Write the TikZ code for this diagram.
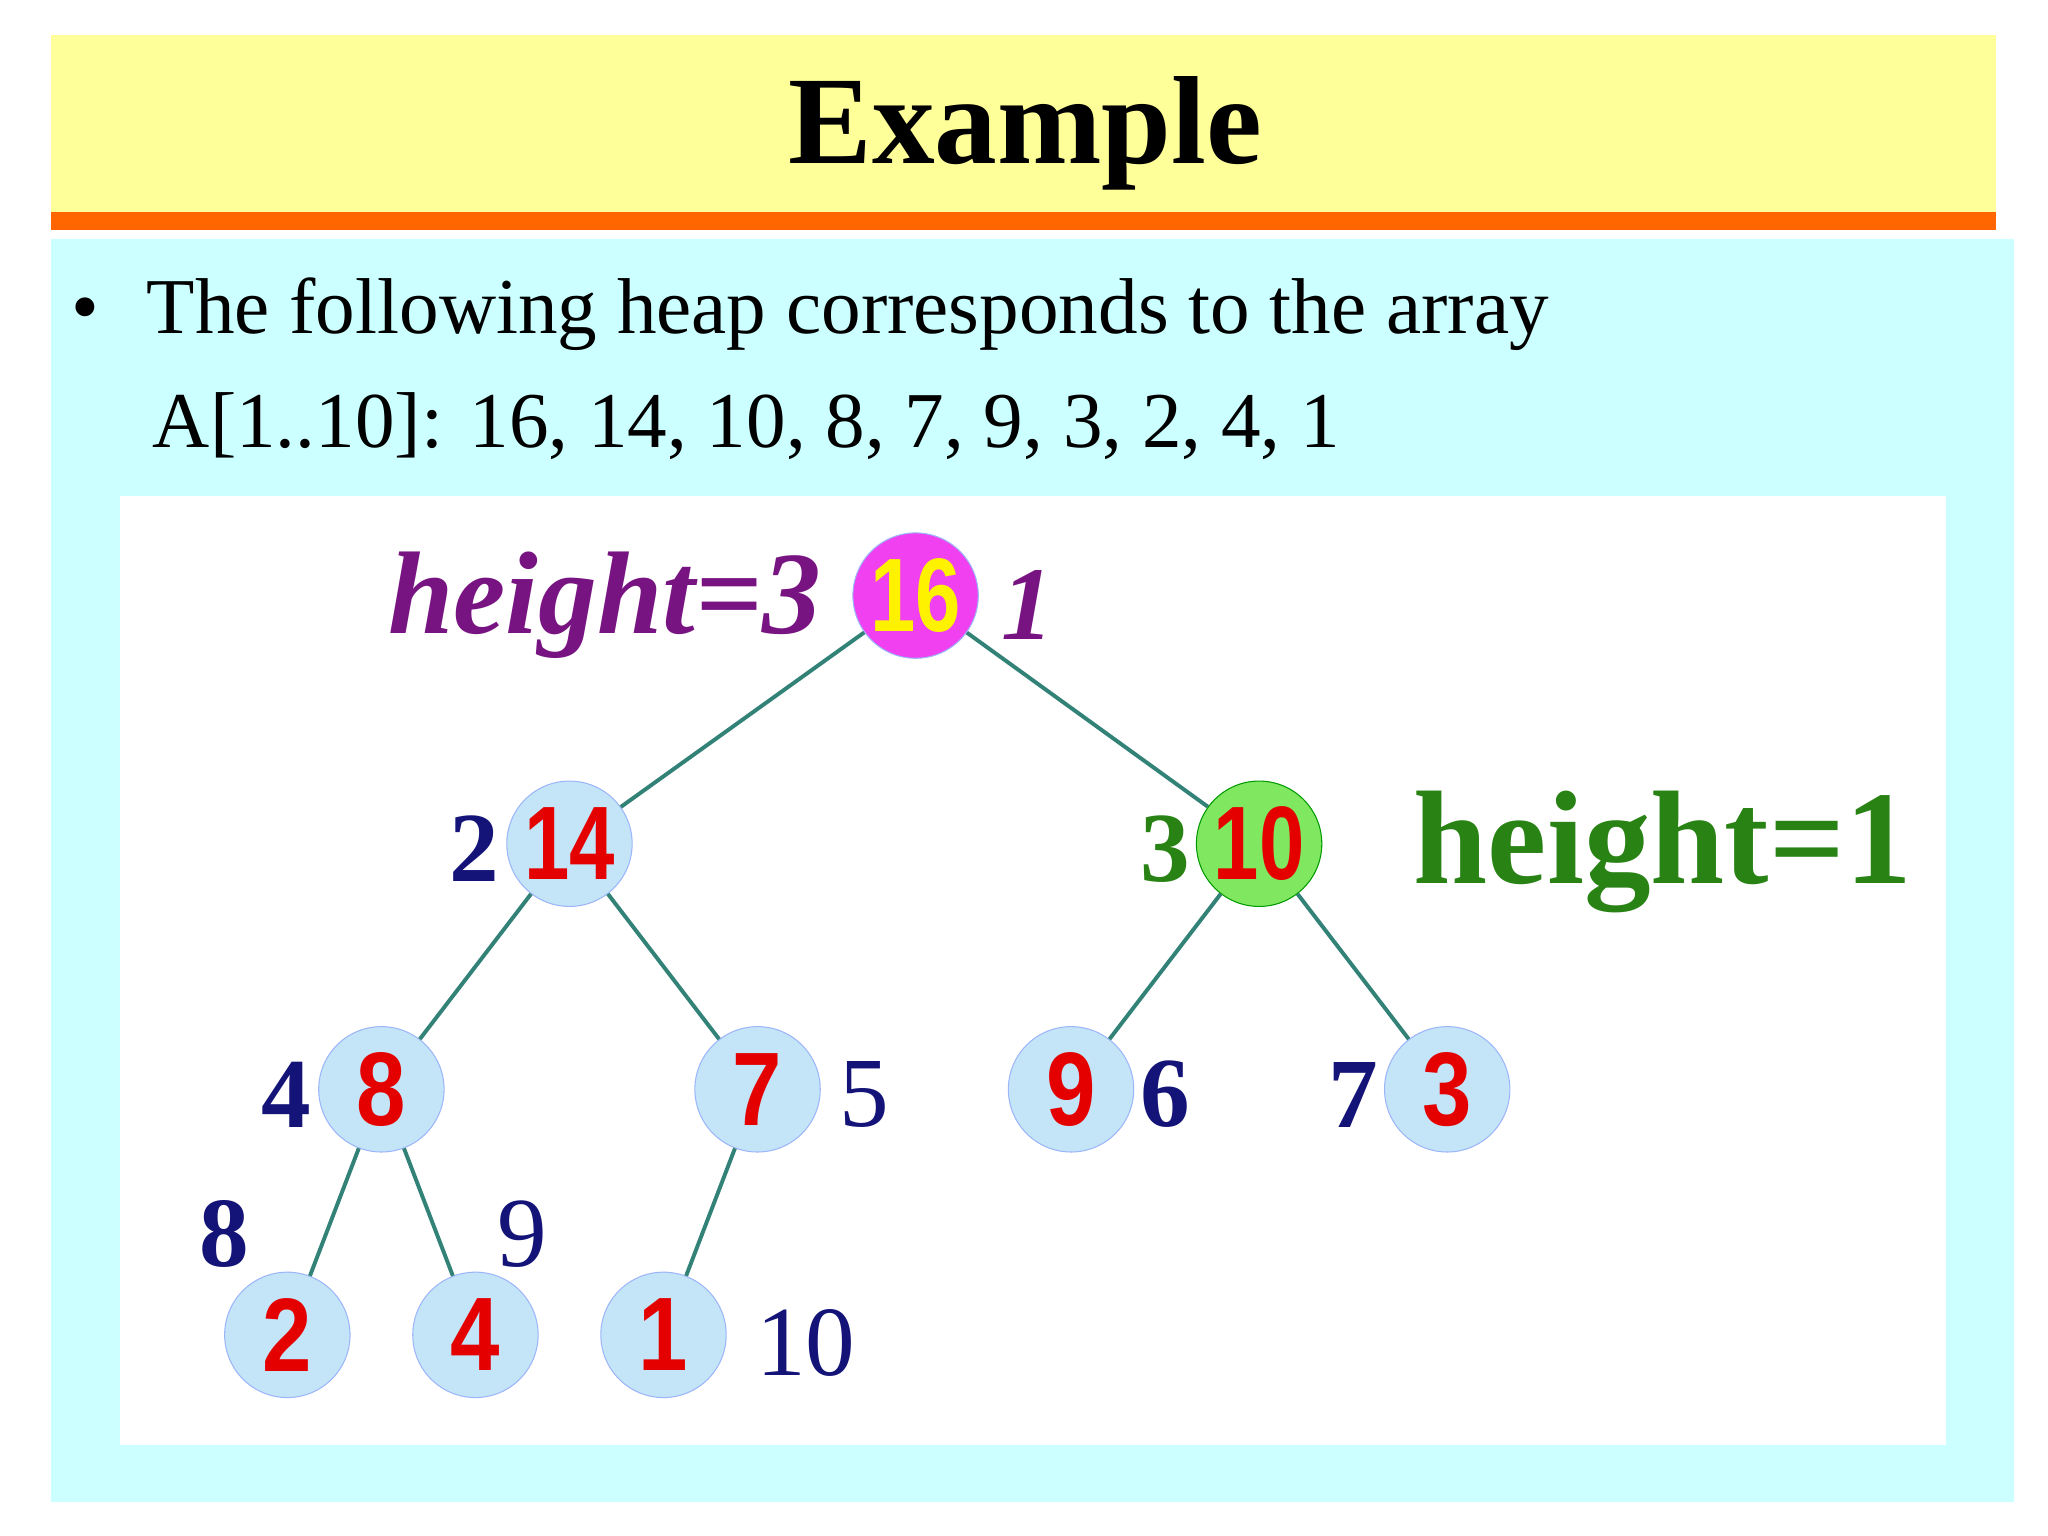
\documentclass[tikz,border=0pt]{standalone}
\usepackage{fontspec}
\setmainfont{Liberation Serif}
\setsansfont{Liberation Sans}
\definecolor{bgc}{RGB}{204,255,255}
\definecolor{ttl}{RGB}{255,255,153}
\definecolor{org}{RGB}{255,102,0}
\definecolor{nodeb}{RGB}{196,228,248}
\definecolor{mag}{RGB}{240,64,240}
\definecolor{grn}{RGB}{128,232,96}
\definecolor{navy}{RGB}{20,20,120}
\definecolor{dgrn}{RGB}{40,130,20}
\definecolor{purp}{RGB}{120,20,130}
\definecolor{edg}{RGB}{50,130,120}
\begin{document}
\begin{tikzpicture}[x=0.5pt,y=-0.5pt,
  hn/.style={circle,minimum size=48pt,inner sep=0pt,draw=nodeb!80!blue,line width=0.4pt,fill=nodeb,text=red!90!black,font=\sffamily\bfseries\fontsize{40}{40}\selectfont},
  lab/.style={text=navy,font=\fontsize{38}{38}\selectfont},
  blab/.style={text=navy,font=\bfseries\fontsize{38}{38}\selectfont},
  ed/.style={draw=edg,line width=1.5pt}]
\useasboundingbox (0,0) rectangle (1568,1176);
\fill[white] (0,0) rectangle (1568,1176);
\fill[ttl] (39,27) rectangle (1528,162);
\fill[org] (39,162) rectangle (1528,176);
\fill[bgc] (39,183) rectangle (1542,1150);
\fill[white] (92,380) rectangle (1490,1106);
\node (title) at (785,102) {\bfseries\fontsize{48}{48}\selectfont Example};
\node[anchor=base west] (l1) at (48,255) {\fontsize{30.3}{30}\selectfont \textbullet\hspace{18pt}The following heap corresponds to the array};
\node[anchor=base west] (l2) at (110,343) {\fontsize{30.3}{30}\selectfont A[1..10]: 16, 14, 10, 8, 7, 9, 3, 2, 4, 1};
\node[hn,fill=mag,text=yellow] (n1) at (701,456) {\scalebox{0.78}[1]{16}};
\node[hn] (n2) at (436,646) {\scalebox{0.78}[1]{14}};
\node[hn,fill=grn,draw=green!60!black] (n3) at (964,646) {\scalebox{0.78}[1]{10}};
\node[hn] (n4) at (292,834) {\scalebox{0.85}[1]{8}};
\node[hn] (n5) at (580,834) {\scalebox{0.85}[1]{7}};
\node[hn] (n6) at (820,834) {\scalebox{0.85}[1]{9}};
\node[hn] (n7) at (1108,834) {\scalebox{0.85}[1]{3}};
\node[hn] (n8) at (220,1022) {\scalebox{0.85}[1]{2}};
\node[hn] (n9) at (364,1022) {\scalebox{0.85}[1]{4}};
\node[hn] (n10) at (508,1022) {\scalebox{0.85}[1]{1}};
\draw[ed] (n1) -- (n2); \draw[ed] (n1) -- (n3);
\draw[ed] (n2) -- (n4); \draw[ed] (n2) -- (n5);
\draw[ed] (n3) -- (n6); \draw[ed] (n3) -- (n7);
\draw[ed] (n4) -- (n8); \draw[ed] (n4) -- (n9);
\draw[ed] (n5) -- (n10);
\node[blab] (a2) at (363,650) {2};
\node[blab,text=dgrn] (a3) at (892,650) {3};
\node[blab] (a4) at (219,838) {4};
\node[lab] (a5) at (662,838) {5};
\node[blab] (a6) at (892,838) {6};
\node[blab] (a7) at (1036,838) {7};
\node[blab] (a8) at (172,945) {8};
\node[lab] (a9) at (400,945) {9};
\node[lab] (a10) at (617,1028) {10};
\node[text=purp,font=\bfseries\itshape\fontsize{40}{40}\selectfont] (a1) at (787,463) {1};
\node[text=purp,font=\bfseries\itshape\fontsize{45}{45}\selectfont] (h3) at (463,463) {height=3};
\node[text=dgrn,font=\bfseries\fontsize{51}{51}\selectfont] (h1) at (1273,652) {height=1};
\end{tikzpicture}
\end{document}
